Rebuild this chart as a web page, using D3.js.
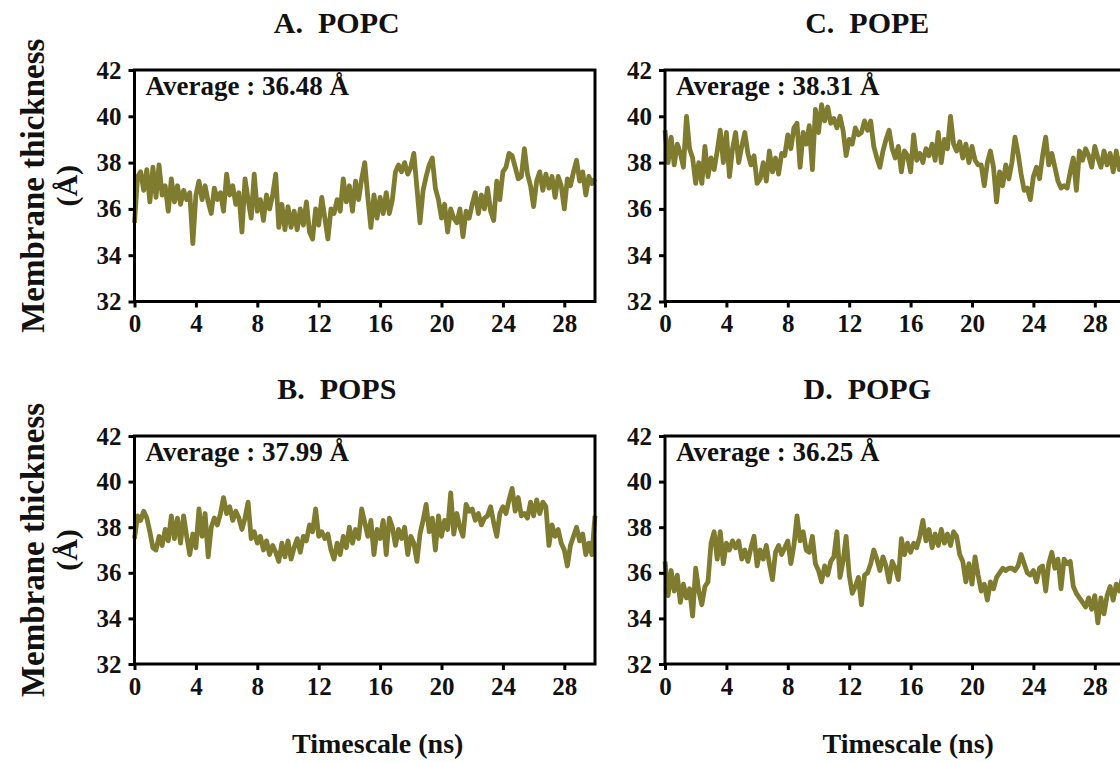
<!DOCTYPE html>
<html>
<head>
<meta charset="utf-8">
<style>
  body { margin: 0; background: #fff; }
  svg text { font-family: "Liberation Serif", "Times New Roman", serif; font-weight: bold; fill: #111; }
  .frame { fill: none; stroke: #000; stroke-width: 3; }
  .axis path { display: none; }
  .axis line { stroke: #000; stroke-width: 3; }
  .axis text { font-size: 25px; font-family: "Liberation Serif", "Times New Roman", serif; font-weight: bold; fill: #111; }
  .trace { fill: none; stroke: #7f7b2f; stroke-width: 4.8; stroke-linejoin: round; }
  .title { white-space: pre; }
</style>
</head>
<body>
<svg id="chart" width="1120" height="763"></svg>
<script src="https://cdn.jsdelivr.net/npm/d3@7"></script>
<script>
// sampled every 0.2 ns, 0..30 ns
var timeStep = 0.2;

var xTicks = [0, 4, 8, 12, 16, 20, 24, 28];
var yTicks = [32, 34, 36, 38, 40, 42];

var panelTitles = ["A.  POPC", "B.  POPS", "C.  POPE", "D.  POPG"];
var averageLabels = ["Average : 36.48 Å", "Average : 37.99 Å", "Average : 38.31 Å", "Average : 36.25 Å"];

var popcValues = [
  35.4, 37.4, 37.6, 36.8, 37.7, 36.3, 37.8, 36.5, 37.9, 36.6,
  37.0, 35.9, 37.3, 36.3, 37.0, 36.2, 36.8, 36.4, 36.7, 34.5,
  36.6, 37.2, 36.4, 37.0, 36.3, 35.8, 36.9, 36.4, 36.7, 35.9,
  37.5, 36.6, 37.0, 36.2, 36.7, 35.0, 37.3, 36.4, 35.6, 37.5,
  35.9, 36.4, 35.5, 36.6, 36.0, 36.6, 37.5, 35.2, 36.2, 35.1,
  36.1, 35.2, 35.9, 35.1, 36.0, 35.3, 36.3, 35.0, 34.7, 36.0,
  35.3, 36.5, 35.6, 34.7, 36.0, 35.8, 36.4, 35.9, 37.3, 36.3,
  37.0, 35.9, 37.2, 36.4, 37.3, 38.0, 36.5, 35.2, 36.6, 35.6,
  36.5, 35.8, 36.7, 35.8, 36.4, 37.6, 37.9, 37.6, 38.0, 37.5,
  37.8, 38.4, 36.9, 35.4, 36.8, 37.4, 37.9, 38.2, 36.9, 36.4,
  35.6, 36.2, 35.0, 36.0, 35.6, 35.4, 36.0, 34.8, 35.9, 35.6,
  36.2, 36.7, 35.8, 36.6, 36.0, 36.9, 35.9, 35.5, 37.2, 36.4,
  37.6, 37.8, 38.4, 38.3, 37.8, 37.3, 37.4, 38.6, 37.5, 37.0,
  36.1, 37.2, 37.6, 36.8, 37.5, 36.9, 37.4, 36.5, 37.4, 37.0,
  36.0, 37.3, 37.0, 37.6, 38.1, 37.2, 37.6, 36.6, 37.4, 37.1,
  37.3
];

var popsValues = [
  37.5, 38.5, 38.3, 38.7, 38.4, 37.8, 37.1, 37.0, 37.6, 37.2,
  37.9, 37.4, 38.5, 37.5, 38.4, 37.3, 38.5, 37.6, 36.8, 37.7,
  37.1, 38.8, 37.6, 38.6, 36.7, 38.0, 38.4, 38.1, 38.6, 39.3,
  38.6, 38.9, 38.3, 38.7, 38.4, 37.9, 38.4, 39.1, 37.5, 37.8,
  37.3, 37.6, 37.0, 37.4, 36.8, 37.2, 36.9, 36.5, 37.3, 36.7,
  37.4, 36.6, 37.1, 37.5, 36.9, 37.6, 37.4, 38.1, 37.8, 38.8,
  37.6, 37.8, 37.5, 37.7, 37.0, 36.6, 37.3, 36.8, 37.6, 37.1,
  38.0, 37.3, 37.9, 37.5, 38.8, 38.2, 37.6, 38.3, 36.8, 37.9,
  37.5, 38.3, 36.8, 38.4, 38.0, 37.2, 37.9, 37.5, 38.0, 36.8,
  37.6, 37.3, 36.5, 37.7, 38.3, 39.0, 37.8, 38.4, 37.0, 38.5,
  37.6, 38.3, 37.9, 39.5, 37.7, 38.6, 38.0, 37.6, 39.0, 38.7,
  38.8, 38.3, 38.6, 38.1, 38.4, 38.5, 38.9, 38.2, 37.6, 38.6,
  38.9, 38.6, 39.2, 39.7, 38.7, 39.3, 38.5, 38.6, 38.4, 39.1,
  38.5, 39.2, 38.6, 39.1, 38.9, 37.2, 38.1, 37.6, 37.9, 37.3,
  37.0, 36.3, 37.2, 37.6, 38.0, 37.4, 37.7, 36.8, 37.3, 36.8,
  38.5
];

var popeValues = [
  39.4, 38.0, 39.1, 37.9, 38.8, 38.4, 37.8, 40.0, 38.6, 38.2,
  37.1, 38.0, 37.1, 38.7, 37.4, 38.2, 37.7, 38.5, 39.4, 38.0,
  39.3, 37.4, 38.6, 39.3, 38.0, 38.7, 39.3, 38.4, 37.9, 38.3,
  37.1, 37.3, 38.0, 37.2, 38.5, 37.6, 38.2, 37.5, 38.4, 38.3,
  39.2, 38.6, 39.5, 39.7, 37.8, 39.3, 38.8, 39.6, 37.7, 40.3,
  39.3, 40.5, 39.8, 40.4, 39.7, 39.9, 39.5, 40.0, 39.4, 38.3,
  39.0, 38.8, 39.5, 39.2, 39.3, 39.8, 39.4, 39.8, 38.7, 38.2,
  37.8, 38.5, 39.0, 39.4, 38.6, 38.2, 38.7, 37.6, 38.5, 38.3,
  37.6, 39.2, 38.1, 38.4, 38.0, 38.6, 38.3, 38.8, 38.1, 39.3,
  38.0, 39.0, 38.6, 40.0, 38.8, 38.5, 38.9, 38.2, 38.8, 38.0,
  38.7, 38.1, 37.9, 37.9, 37.0, 38.0, 38.5, 37.8, 36.3, 37.6,
  37.0, 37.9, 37.3, 38.0, 39.1, 38.4, 37.5, 36.8, 36.9, 36.4,
  37.4, 37.8, 37.3, 38.3, 39.1, 37.9, 38.4, 37.8, 37.2, 36.9,
  37.0, 36.9, 37.6, 38.2, 36.8, 38.5, 38.1, 38.6, 38.3, 37.8,
  38.7, 38.2, 37.8, 38.5, 37.9, 38.4, 37.6, 38.5, 37.7, 38.3,
  38.0
];

var popgValues = [
  36.5, 35.0, 36.1, 35.2, 35.9, 34.7, 35.5, 34.9, 35.3, 34.1,
  36.2, 35.2, 34.6, 35.4, 35.6, 37.3, 37.8, 36.6, 37.8, 36.4,
  37.3, 37.0, 37.4, 37.1, 37.4, 36.6, 37.0, 36.5, 37.1, 37.6,
  36.3, 37.0, 36.6, 37.2, 36.4, 35.7, 36.9, 37.2, 36.8, 37.1,
  37.4, 36.4, 37.2, 38.5, 37.4, 37.8, 37.0, 36.9, 37.6, 36.4,
  36.1, 35.6, 36.3, 35.9, 36.5, 36.7, 37.8, 35.8, 36.5, 37.6,
  35.9, 35.1, 35.4, 35.8, 34.6, 35.9, 36.0, 36.4, 37.0, 36.6,
  36.1, 36.7, 36.3, 35.6, 36.5, 36.2, 35.7, 37.5, 36.8, 37.3,
  36.9, 37.3, 37.1, 37.6, 38.3, 37.4, 37.9, 37.1, 37.7, 37.2,
  37.9, 37.3, 37.7, 37.2, 37.8, 37.6, 36.8, 36.5, 35.6, 36.4,
  35.5, 36.7, 35.9, 35.2, 35.5, 34.8, 35.6, 35.3, 35.8, 36.0,
  36.2, 36.1, 36.2, 36.2, 36.1, 36.3, 36.8, 36.4, 36.0, 35.9,
  36.1, 35.6, 36.2, 36.3, 35.2, 36.4, 36.9, 36.2, 36.6, 35.3,
  36.6, 36.4, 36.5, 35.4, 35.1, 34.9, 34.7, 34.5, 34.9, 34.4,
  35.0, 33.8, 34.9, 34.2, 35.0, 35.4, 34.8, 35.5, 35.2, 35.8,
  36.0
];

var series = [popcValues, popsValues, popeValues, popgValues];

var svg = d3.select("#chart");

// plot boxes: left column / right column, top row / bottom row
var colX = [134.5, 665];
var rowY = [70, 436];
var plotW = 460.5;
var plotH = [231.5, 228];

series.forEach(function(values, i) {
  var col = i < 2 ? 0 : 1;
  var row = i % 2;
  var ox = colX[col], oy = rowY[row], h = plotH[row];

  var x = d3.scaleLinear().domain([0, 30]).range([0, plotW]);
  var y = d3.scaleLinear().domain([32, 42]).range([h, 0]);

  var g = svg.append("g").attr("transform", "translate(" + ox + "," + oy + ")");

  var line = d3.line()
    .x(function(d, j) { return x(j * timeStep); })
    .y(function(d) { return y(d); });

  g.append("path")
    .datum(values)
    .attr("class", "trace")
    .attr("d", line);

  g.append("rect")
    .attr("class", "frame")
    .attr("width", plotW)
    .attr("height", h);

  g.append("g")
    .attr("class", "axis")
    .attr("transform", "translate(0," + h + ")")
    .call(d3.axisBottom(x).tickValues(xTicks).tickSize(6).tickPadding(7));

  g.append("g")
    .attr("class", "axis")
    .call(d3.axisLeft(y).tickValues(yTicks).tickSize(6).tickPadding(7));

  g.append("text")
    .attr("x", 11)
    .attr("y", 25)
    .style("font-size", "27px")
    .text(averageLabels[i]);

  svg.append("text")
    .attr("class", "title")
    .attr("x", ox + plotW / 2 - 28)
    .attr("y", oy - 37)
    .attr("text-anchor", "middle")
    .style("font-size", "30px")
    .text(panelTitles[i]);

  if (row == 1) {
    svg.append("text")
      .attr("x", ox + plotW / 2 + 13)
      .attr("y", 753)
      .attr("text-anchor", "middle")
      .style("font-size", "28px")
      .text("Timescale (ns)");
  }

  if (col == 0) {
    var cy = oy + h / 2;
    var lab = svg.append("g").attr("transform", "translate(0," + cy + ") rotate(-90)");
    lab.append("text")
      .attr("x", 0).attr("y", 44)
      .attr("text-anchor", "middle")
      .style("font-size", "33px")
      .text("Membrane thickness");
    lab.append("text")
      .attr("x", 0).attr("y", 77)
      .attr("text-anchor", "middle")
      .style("font-size", "30px")
      .text("(Å)");
  }
});
</script>
</body>
</html>
